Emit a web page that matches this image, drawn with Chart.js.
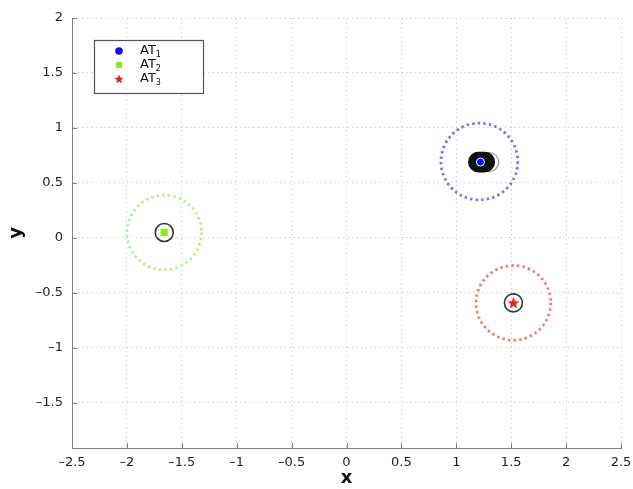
<!DOCTYPE html>
<html>
<head>
<meta charset="utf-8">
<script src="https://cdn.jsdelivr.net/npm/chart.js@4.4.0/dist/chart.umd.min.js"></script>
<style>
  html, body { margin: 0; padding: 0; background: #fff; }
  #wrap { width: 633px; height: 489px; }
</style>
</head>
<body>
<div id="wrap"><canvas id="plot"></canvas></div>
<script>
// axis ticks
const xTicks = [-2.5, -2, -1.5, -1, -0.5, 0, 0.5, 1, 1.5, 2, 2.5];
const yTicks = [-1.5, -1, -0.5, 0, 0.5, 1, 1.5, 2];

// anchor terminals
const atNames = ['AT', 'AT', 'AT'];
const atIndex = ['1', '2', '3'];
const atX = [1.22, -1.66, 1.52];
const atY = [0.69, 0.05, -0.59];

// coverage range around each terminal
const rangeX = [1.21, -1.66, 1.52];
const rangeY = [0.695, 0.05, -0.59];
const rangeR = [0.35, 0.34, 0.34];

// estimated positions (black rings)
const estX = [-1.66, 1.52];
const estY = [0.05, -0.59];
const trackX = [1.20, 1.21, 1.22, 1.23, 1.24, 1.25, 1.26];
const trackY = [0.69, 0.69, 0.69, 0.69, 0.69, 0.69, 0.69];
const lastX = [1.30];
const lastY = [0.69];

const atColors = ['#0a10f0', '#84ee1c', '#e82020'];
const ringColors = ['#7474f4', '#b8ee88', '#f07c7c'];

function pts(xs, ys) {
  return xs.map((v, i) => ({ x: v, y: ys[i] }));
}

// filled five point star used as a marker
function makeStar(size, color) {
  const c = document.createElement('canvas');
  c.width = size; c.height = size;
  const g = c.getContext('2d');
  const cx = size / 2, cy = size / 2 + size * 0.05;
  const ro = size / 2, ri = ro * 0.42;
  g.beginPath();
  for (let k = 0; k < 10; k++) {
    const r = k % 2 ? ri : ro;
    const a = -Math.PI / 2 + k * Math.PI / 5;
    g.lineTo(cx + r * Math.cos(a), cy + r * Math.sin(a));
  }
  g.closePath();
  g.fillStyle = color;
  g.fill();
  g.strokeStyle = '#b01010';
  g.lineWidth = 0.6;
  g.stroke();
  return c;
}
const starBig = makeStar(11, atColors[2]);
const starSmall = makeStar(8, atColors[2]);

// dotted range circles, radius converted through the x scale
const rangeRings = {
  id: 'rangeRings',
  beforeDatasetsDraw(chart) {
    const { ctx, chartArea, scales } = chart;
    ctx.save();
    ctx.beginPath();
    ctx.rect(chartArea.left, chartArea.top, chartArea.width, chartArea.height);
    ctx.clip();
    ctx.lineWidth = 2.8;
    ctx.setLineDash([2.4, 3.2]);
    rangeX.forEach((cx, i) => {
      const px = scales.x.getPixelForValue(cx);
      const py = scales.y.getPixelForValue(rangeY[i]);
      const r = scales.x.getPixelForValue(cx + rangeR[i]) - px;
      ctx.strokeStyle = ringColors[i];
      ctx.beginPath();
      ctx.arc(px, py, r, 0, Math.PI * 2);
      ctx.stroke();
    });
    ctx.restore();
  }
};

// small inward tick marks on the two axes
const innerTicks = {
  id: 'innerTicks',
  afterDraw(chart) {
    const { ctx, chartArea, scales } = chart;
    ctx.save();
    ctx.strokeStyle = '#808080';
    ctx.lineWidth = 1;
    ctx.beginPath();
    xTicks.forEach(v => {
      const px = Math.round(scales.x.getPixelForValue(v)) + 0.5;
      ctx.moveTo(px, chartArea.bottom);
      ctx.lineTo(px, chartArea.bottom - 5);
    });
    yTicks.forEach(v => {
      const py = Math.round(scales.y.getPixelForValue(v)) + 0.5;
      ctx.moveTo(chartArea.left, py);
      ctx.lineTo(chartArea.left + 5, py);
    });
    ctx.stroke();
    ctx.restore();
  }
};

// boxed legend in the upper left of the plot
const boxLegend = {
  id: 'boxLegend',
  afterDraw(chart) {
    const ctx = chart.ctx;
    ctx.save();
    ctx.fillStyle = '#fff';
    ctx.fillRect(94.5, 40.5, 109, 53);
    ctx.strokeStyle = '#555';
    ctx.lineWidth = 1.2;
    ctx.strokeRect(94.5, 40.5, 109, 53);
    const rows = [51, 65, 79];
    rows.forEach((ry, i) => {
      const mx = 119;
      if (i === 0) {
        ctx.fillStyle = atColors[0];
        ctx.beginPath();
        ctx.arc(mx, ry, 3.8, 0, Math.PI * 2);
        ctx.fill();
      } else if (i === 1) {
        ctx.fillStyle = atColors[1];
        ctx.fillRect(mx - 3, ry - 3, 6, 6);
      } else {
        ctx.drawImage(starSmall, mx - 4, ry - 4);
      }
      ctx.fillStyle = '#111';
      ctx.textBaseline = 'middle';
      ctx.font = '13px "DejaVu Sans"';
      ctx.fillText(atNames[i], 140, ry);
      const w = ctx.measureText(atNames[i]).width;
      ctx.font = '8px "DejaVu Sans"';
      ctx.fillText(atIndex[i], 140 + w, ry + 4);
    });
    ctx.restore();
  }
};

const tickFont = { family: 'DejaVu Sans', size: 13 };
const fmt = v => String(v).replace('-', '\u2013');

new Chart(document.getElementById('plot'), {
  type: 'scatter',
  data: {
    datasets: [
      {
        label: 'AT1',
        data: pts([atX[0]], [atY[0]]),
        pointStyle: 'circle',
        pointRadius: 4,
        backgroundColor: atColors[0],
        borderColor: '#f0f0ff',
        borderWidth: 1,
        order: 0
      },
      {
        label: 'AT2',
        data: pts([atX[1]], [atY[1]]),
        pointStyle: 'rect',
        pointRadius: 5,
        backgroundColor: atColors[1],
        borderColor: atColors[1],
        borderWidth: 0,
        order: 0
      },
      {
        label: 'AT3',
        data: pts([atX[2]], [atY[2]]),
        pointStyle: starBig,
        pointRadius: 6,
        order: 0
      },
      {
        label: 'track',
        data: pts(trackX, trackY),
        pointRadius: 9.5,
        backgroundColor: '#111',
        borderColor: '#111',
        borderWidth: 1.5,
        order: 1
      },
      {
        label: 'last',
        data: pts(lastX, lastY),
        pointRadius: 9.5,
        backgroundColor: 'rgba(0,0,0,0)',
        borderColor: '#999',
        borderWidth: 1.2,
        order: 2
      },
      {
        label: 'est',
        data: pts(estX, estY),
        pointRadius: 9,
        backgroundColor: 'rgba(0,0,0,0)',
        borderColor: '#333',
        borderWidth: 1.6,
        order: 1
      }
    ]
  },
  options: {
    responsive: true,
    maintainAspectRatio: false,
    animation: false,
    layout: { padding: { left: 0, right: 12, top: 18, bottom: 0 } },
    plugins: {
      legend: { display: false },
      tooltip: { enabled: false }
    },
    scales: {
      x: {
        type: 'linear',
        min: -2.5,
        max: 2.5,
        afterBuildTicks: s => { s.ticks = xTicks.map(v => ({ value: v })); },
        afterFit: s => { s.height = 41; s.paddingLeft = 0; s.paddingRight = 0; },
        ticks: { font: tickFont, color: '#222', padding: 7, maxRotation: 0, callback: fmt },
        grid: { color: '#d0d0d0', lineWidth: 1, drawTicks: false },
        border: { display: true, color: '#808080', width: 1, dash: [1.5, 3] },
        title: {
          display: true,
          text: 'x',
          color: '#111',
          font: { family: 'DejaVu Sans', size: 18, weight: 'bold' },
          padding: { top: 0, bottom: 0 }
        }
      },
      y: {
        type: 'linear',
        min: -1.91,
        max: 2,
        afterBuildTicks: s => { s.ticks = yTicks.map(v => ({ value: v })); },
        afterFit: s => { s.width = 72; s.paddingTop = 0; s.paddingBottom = 0; },
        ticks: { font: tickFont, color: '#222', padding: 9, callback: fmt },
        grid: { color: '#d0d0d0', lineWidth: 1, drawTicks: false },
        border: { display: true, color: '#808080', width: 1, dash: [1.5, 3] },
        title: {
          display: true,
          text: 'y',
          color: '#111',
          font: { family: 'DejaVu Sans', size: 18, weight: 'bold' },
          padding: { top: 6, bottom: 0 }
        }
      }
    }
  },
  plugins: [rangeRings, innerTicks, boxLegend]
});
</script>
</body>
</html>
